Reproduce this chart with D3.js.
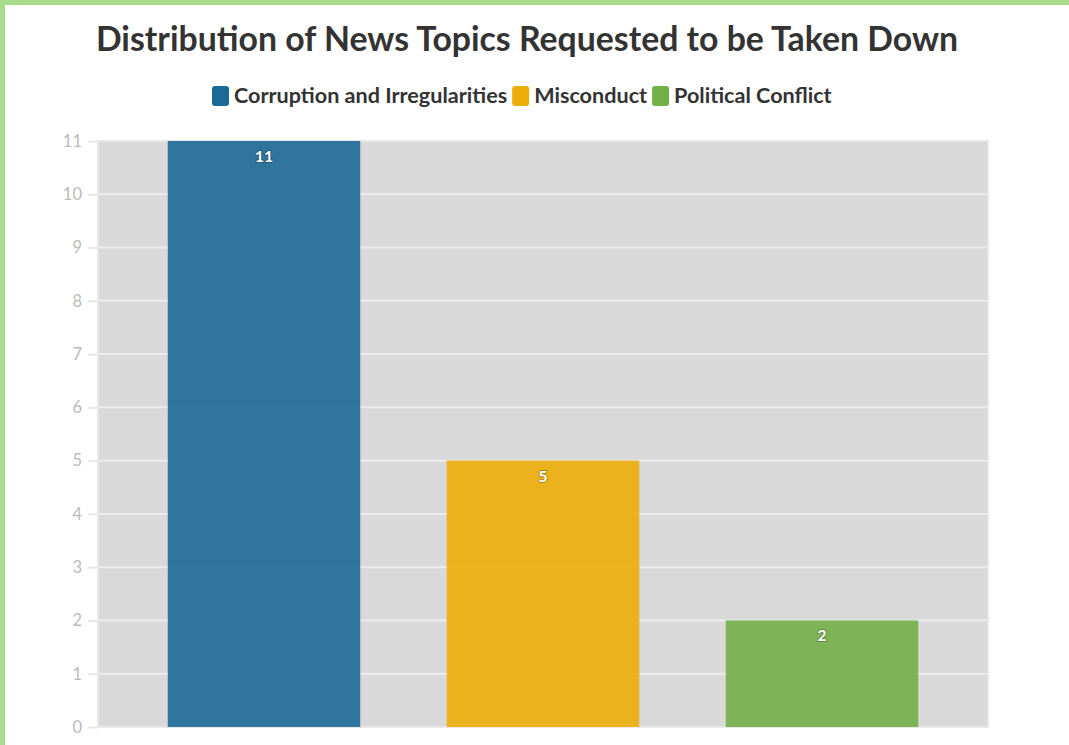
<!DOCTYPE html>
<html>
<head>
<meta charset="utf-8">
<script src="https://cdn.jsdelivr.net/npm/d3@7"></script>
<style>
  html, body { margin: 0; padding: 0; background: #fff; }
  #chart { width: 1069px; height: 745px; }
</style>
</head>
<body>
<div id="chart"></div>
<script>
var categories = ["Corruption and Irregularities", "Misconduct", "Political Conflict"];
var values = [11, 5, 2];
var colors = ["#1D6996", "#EDAD08", "#73AF48"];
var yTicks = [0, 1, 2, 3, 4, 5, 6, 7, 8, 9, 10, 11];

var width = 1069, height = 745;
var plot = { left: 98, right: 988, top: 141, bottom: 727 };

var svg = d3.select("#chart").append("svg")
  .attr("width", width)
  .attr("height", height);

// green frame on top and left
svg.append("rect").attr("x", 0).attr("y", 0).attr("width", width).attr("height", 5).attr("fill", "#a8dc8a");
svg.append("rect").attr("x", 0).attr("y", 0).attr("width", 5).attr("height", height).attr("fill", "#a8dc8a");

svg.append("text")
  .attr("x", 527)
  .attr("y", 51)
  .attr("text-anchor", "middle")
  .style("font-family", "Lato, sans-serif")
  .style("font-weight", "bold")
  .style("font-size", "33.8px")
  .style("fill", "#333")
  .text("Distribution of News Topics Requested to be Taken Down");

// legend
var legend = svg.append("g").attr("class", "legend");
var lx = 212;
categories.forEach(function (c, i) {
  var item = legend.append("g").attr("transform", "translate(" + lx + ",86)");
  item.append("rect")
    .attr("width", 17).attr("height", 20)
    .attr("rx", 3).attr("ry", 3)
    .attr("fill", colors[i]);
  var t = item.append("text")
    .attr("x", 22).attr("y", 17)
    .style("font-family", "Lato, sans-serif")
    .style("font-weight", "bold")
    .style("font-size", "21.6px")
    .style("fill", "#333")
    .text(c);
  lx += 22 + t.node().getComputedTextLength() + 5;
});

var x = d3.scaleBand()
  .domain(categories)
  .range([plot.left, plot.right])
  .paddingInner(0.31)
  .paddingOuter(0.25);

var y = d3.scaleLinear()
  .domain([0, 11])
  .range([plot.bottom, plot.top]);

svg.append("rect")
  .attr("x", plot.left).attr("y", plot.top)
  .attr("width", plot.right - plot.left)
  .attr("height", plot.bottom - plot.top)
  .attr("fill", "#d9d9d9")
  .attr("stroke", "#e8e8e8")
  .attr("stroke-width", 2);

svg.append("g")
  .selectAll("line")
  .data(yTicks.slice(1, -1))
  .enter().append("line")
  .attr("x1", plot.left).attr("x2", plot.right)
  .attr("y1", function (d) { return y(d); })
  .attr("y2", function (d) { return y(d); })
  .attr("stroke", "#ececec")
  .attr("stroke-width", 2);

var yAxis = svg.append("g")
  .attr("transform", "translate(" + plot.left + ",0)")
  .call(d3.axisLeft(y).tickValues(yTicks).tickSize(10).tickPadding(6));
yAxis.select(".domain").remove();
yAxis.selectAll(".tick line").attr("stroke", "#e8e8e8").attr("stroke-width", 2);
yAxis.selectAll(".tick text")
  .style("font-family", "Lato, sans-serif")
  .style("font-size", "16.5px")
  .attr("fill", "#bbbbbb");

var bars = svg.append("g")
  .selectAll(".bar")
  .data(values)
  .enter().append("g")
  .attr("class", "bar");

bars.append("rect")
  .attr("x", function (d, i) { return x(categories[i]); })
  .attr("y", function (d) { return y(d); })
  .attr("width", x.bandwidth())
  .attr("height", function (d) { return y(0) - y(d); })
  .attr("fill", function (d, i) { return colors[i]; })
  .attr("fill-opacity", 0.9);

bars.append("text")
  .attr("x", function (d, i) { return x(categories[i]) + x.bandwidth() / 2; })
  .attr("y", function (d) { return y(d) + 21; })
  .attr("text-anchor", "middle")
  .style("font-family", "Lato, sans-serif")
  .style("font-weight", "bold")
  .style("font-size", "16px")
  .style("fill", "#fff")
  .style("stroke", "rgba(0,0,0,0.25)")
  .style("stroke-width", "2px")
  .style("paint-order", "stroke")
  .text(function (d) { return d; });
</script>
</body>
</html>
